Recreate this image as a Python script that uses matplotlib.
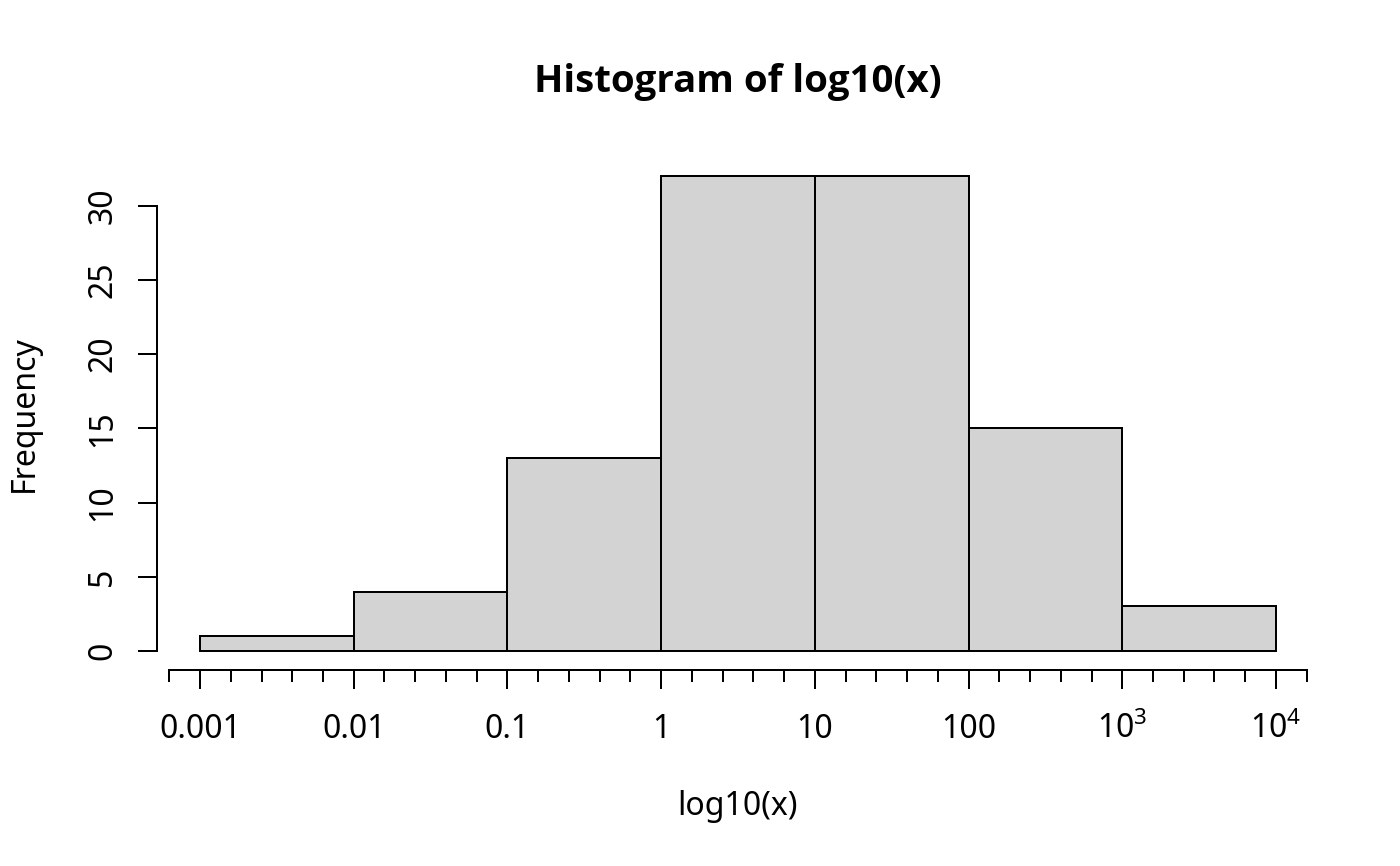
import numpy as np
import matplotlib
matplotlib.use("Agg")
import matplotlib.pyplot as plt

# histogram of log10(x): bin edges and counts
breaks = [-3, -2, -1, 0, 1, 2, 3, 4]
counts = [1, 4, 13, 32, 32, 15, 3]
x_labels = ["0.001", "0.01", "0.1", "1", "10", "100",
            r"$\mathregular{10^{3}}$", r"$\mathregular{10^{4}}$"]
y_ticks = [0, 5, 10, 15, 20, 25, 30]

plt.rcParams["font.family"] = ["Noto Sans", "DejaVu Sans"]
plt.rcParams["mathtext.fontset"] = "custom"
plt.rcParams["mathtext.rm"] = "Noto Sans"

W, H, DPI = 1400, 866, 192
fig = plt.figure(figsize=(W / DPI, H / DPI), dpi=DPI)

# R default margins (5.1, 4.1, 4.1, 2.1 lines)
left, right, top, bottom = 157, 1319, 157, 670
ax = fig.add_axes([left / W, 1 - bottom / H, (right - left) / W, (bottom - top) / H])

lefts = breaks[:-1]
widths = np.diff(breaks)
ax.bar(lefts, counts, width=widths, align="edge",
       facecolor="#D3D3D3", edgecolor="black", linewidth=0.75)

# R style 4% padding
span = breaks[-1] - breaks[0]
ax.set_xlim(breaks[0] - 0.04 * span, breaks[-1] + 0.04 * span)
ymax = max(counts)
ax.set_ylim(-0.04 * ymax, ymax * 1.04)

for s in ["top", "right"]:
    ax.spines[s].set_visible(False)
ax.spines["left"].set_bounds(0, 30)
ax.spines["bottom"].set_bounds(-3.2, 4.2)
ax.spines["left"].set_linewidth(0.75)
ax.spines["bottom"].set_linewidth(0.75)

ax.set_xticks(breaks)
ax.set_xticklabels(x_labels)
ax.set_xticks(np.round(np.arange(-3.2, 4.21, 0.2), 1), minor=True)
ax.set_yticks(y_ticks)
ax.set_yticklabels([str(v) for v in y_ticks])

ax.tick_params(axis="x", which="major", length=7.2, width=0.75, pad=18.3, labelsize=12)
ax.tick_params(axis="x", which="minor", length=4.5, width=0.75)
ax.tick_params(axis="y", which="major", length=7.2, width=0.75, pad=10.0, labelsize=12)

for t in ax.get_xticklabels():
    t.set_va("baseline")
for t in ax.get_yticklabels():
    t.set_rotation(90)
    t.set_rotation_mode("anchor")
    t.set_ha("center")
    t.set_va("baseline")

cx = (left + right) / 2 / W
# Noto Sans has no bold face here, Open Sans Bold is its close sibling
fig.text(cx, 1 - 92 / H, "Histogram of log10(x)", ha="center", va="baseline",
         fontsize=14.4, fontweight="bold", family=["Open Sans", "Noto Sans", "DejaVu Sans"])
fig.text(cx, 1 - 815 / H, "log10(x)", ha="center", va="baseline", fontsize=12)
fig.text(33 / W, 1 - (top + bottom) / 2 / H, "Frequency", rotation=90,
         rotation_mode="anchor", ha="center", va="baseline", fontsize=12)

fig.savefig("out.png", dpi=DPI)
